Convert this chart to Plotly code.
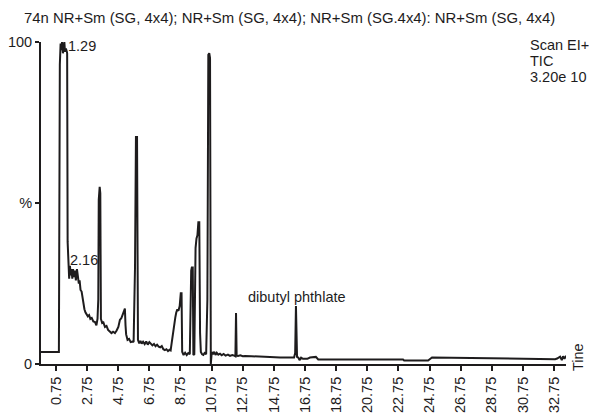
import plotly.graph_objects as go

# Retention time (min) and relative intensity (%)
# (10 values per row; rows of the two lists correspond one to one)
time_min = [
    -0.21, 0.94, 1.00, 1.05, 1.10, 1.14, 1.20, 1.26, 1.29, 1.33,
    1.39, 1.45, 1.47, 1.50, 1.55, 1.60, 1.65, 1.70, 1.75, 1.80,
    1.85, 1.90, 1.97, 2.03, 2.10, 2.16, 2.22, 2.27, 2.33, 2.40,
    2.46, 2.52, 2.58, 2.65, 2.72, 2.80, 2.88, 2.96, 3.05, 3.15,
    3.26, 3.35, 3.42, 3.47, 3.50, 3.56, 3.60, 3.64, 3.72, 3.80,
    3.90, 4.00, 4.10, 4.22, 4.32, 4.42, 4.54, 4.65, 4.76, 4.86,
    4.95, 5.05, 5.12, 5.18, 5.22, 5.26, 5.35, 5.45, 5.55, 5.68,
    5.74, 5.78, 5.83, 5.89, 5.96, 6.02, 6.10, 6.18, 6.26, 6.35,
    6.45, 6.55, 6.65, 6.75, 6.85, 6.95, 7.05, 7.15, 7.25, 7.35,
    7.45, 7.55, 7.65, 7.75, 7.85, 7.95, 8.05, 8.12, 8.20, 8.27,
    8.35, 8.42, 8.48, 8.55, 8.62, 8.70, 8.77, 8.82, 8.86, 8.95,
    9.05, 9.15, 9.25, 9.35, 9.44, 9.48, 9.54, 9.58, 9.64, 9.72,
    9.78, 9.84, 9.90, 9.96, 10.01, 10.06, 10.14, 10.22, 10.30, 10.40,
    10.48, 10.54, 10.60, 10.65, 10.70, 10.76, 10.84, 10.92, 11.00, 11.08,
    11.18, 11.29, 11.40, 11.52, 11.65, 11.80, 11.93, 12.08, 12.20, 12.28,
    12.32, 12.36, 12.45, 12.60, 12.75, 12.90, 13.30, 13.86, 14.50, 15.15,
    15.60, 15.90, 16.05, 16.12, 16.17, 16.24, 16.32, 16.40, 16.50, 16.62,
    16.75, 16.90, 17.07, 17.25, 17.45, 17.60, 17.72, 19.00, 20.50, 22.00,
    23.05, 23.12, 24.66, 24.91, 26.00, 27.50, 29.28, 31.00, 32.82, 32.95,
    33.14, 33.25, 33.33, 33.42, 33.52,
]
intensity_pct = [
    3.7, 3.7, 93.0, 99.5, 97.5, 100.0, 96.5, 99.0, 100.0, 97.0,
    98.0, 97.0, 96.5, 38.0, 33.0, 26.5, 30.5, 27.5, 29.5, 26.5,
    29.5, 27.0, 29.0, 26.0, 29.5, 27.5, 25.0, 26.0, 23.0, 22.5,
    20.0, 19.0, 17.0, 16.0, 15.5, 14.8, 15.2, 14.0, 14.3, 13.2,
    13.0, 12.0, 14.0, 20.0, 51.0, 55.0, 53.0, 14.0, 12.7, 12.9,
    11.5, 11.8, 10.6, 10.2, 9.6, 10.0, 9.6, 10.4, 11.5, 13.7,
    14.2, 15.5, 16.8, 17.2, 12.0, 9.2, 7.5, 7.8, 6.8, 7.0,
    6.8, 21.0, 30.0, 70.5, 70.5, 7.5, 6.4, 7.2, 6.3, 6.9,
    6.2, 7.0, 6.0, 6.8, 6.3, 5.8, 6.2, 5.5, 6.0, 5.4,
    5.2, 5.6, 4.6, 4.3, 4.6, 4.0, 4.4, 4.2, 7.0, 9.6,
    13.0, 14.5, 16.0, 17.0, 16.5, 18.0, 22.0, 22.0, 3.8, 2.8,
    3.5, 2.8, 3.4, 3.0, 29.0, 30.0, 30.0, 2.8, 3.0, 36.0,
    39.0, 40.0, 44.0, 44.0, 9.6, 3.7, 3.0, 2.8, 3.4, 3.0,
    20.0, 96.0, 96.5, 95.0, 0.0, 3.7, 3.0, 3.8, 2.8, 3.5,
    2.9, 3.2, 2.7, 3.1, 2.6, 2.9, 2.5, 2.8, 2.6, 2.4,
    15.8, 2.6, 2.5, 2.7, 2.4, 2.5, 2.4, 2.2, 2.2, 2.0,
    1.9, 1.9, 2.0, 3.4, 18.0, 2.2, 2.0, 1.2, 2.0, 1.6,
    1.7, 1.6, 2.0, 2.2, 2.2, 1.4, 1.4, 1.4, 1.4, 1.4,
    1.4, 1.1, 1.1, 2.0, 1.9, 1.8, 1.7, 1.6, 1.5, 1.7,
    2.3, 1.2, 2.4, 1.6, 2.6,
]

x_ticks = [0.75 + 2 * i for i in range(17)]
x_tick_labels = ["%.2f" % v for v in x_ticks]
y_ticks = [0, 50, 100]
y_tick_labels = ["0", "%", "100"]

title_text = "74n NR+Sm (SG, 4x4); NR+Sm (SG, 4x4); NR+Sm (SG.4x4): NR+Sm (SG, 4x4)"
peak_labels = [(1.39, 98.8, "1.29"), (1.52, 32.3, "2.16"), (12.96, 20.8, "dibutyl phthlate")]
info_lines = ["Scan EI+", "TIC", "3.20e 10"]

FONT = "Liberation Sans, Arial, sans-serif"
INK = "#1e1c1d"
FS = 14.5

fig = go.Figure()
fig.add_trace(go.Scatter(
    x=time_min, y=intensity_pct, mode="lines",
    line=dict(color=INK, width=2), hoverinfo="skip", showlegend=False,
))

ann = []
for xv, yv, txt in peak_labels:
    ann.append(dict(x=xv, y=yv, xref="x", yref="y", text=txt, showarrow=False,
                    xanchor="left", yanchor="middle", font=dict(size=FS, color=INK, family=FONT)))
for i, txt in enumerate(info_lines):
    ann.append(dict(x=0.928, y=0.99 - i * 0.05, xref="paper", yref="paper", text=txt,
                    showarrow=False, xanchor="left", yanchor="middle",
                    font=dict(size=FS, color=INK, family=FONT)))
ann.append(dict(x=-0.036, y=1.0745, xref="paper", yref="paper", text=title_text,
                showarrow=False, xanchor="left", yanchor="middle",
                font=dict(size=14.9, color=INK, family=FONT)))
ann.append(dict(x=1.023, y=0.022, xref="paper", yref="paper", text="Tine", textangle=-90,
                showarrow=False, xanchor="center", yanchor="middle",
                font=dict(size=FS, color=INK, family=FONT)))

fig.update_layout(
    width=589, height=413,
    margin=dict(l=41, r=23, t=42, b=49, autoexpand=False),
    paper_bgcolor="white", plot_bgcolor="white",
    font=dict(family=FONT, size=FS, color=INK),
    annotations=ann,
    xaxis=dict(range=[-0.21, 33.52], tickmode="array", tickvals=x_ticks, ticktext=x_tick_labels,
               tickangle=-90, ticks="outside", ticklen=5, tickwidth=2, tickcolor=INK,
               showline=True, linewidth=2, linecolor=INK, showgrid=False, zeroline=False,
               automargin=False, tickfont=dict(size=FS, family=FONT, color=INK)),
    yaxis=dict(range=[0, 100], tickmode="array", tickvals=y_ticks, ticktext=y_tick_labels,
               ticks="outside", ticklen=4, tickwidth=2, tickcolor=INK,
               showline=True, linewidth=2, linecolor=INK, showgrid=False, zeroline=False,
               automargin=False, tickfont=dict(size=FS, family=FONT, color=INK)),
)

fig.write_html(
    "out.html",
    config={"displayModeBar": False},
    post_script="document.body.style.margin='0';document.body.style.overflow='hidden';",
)
